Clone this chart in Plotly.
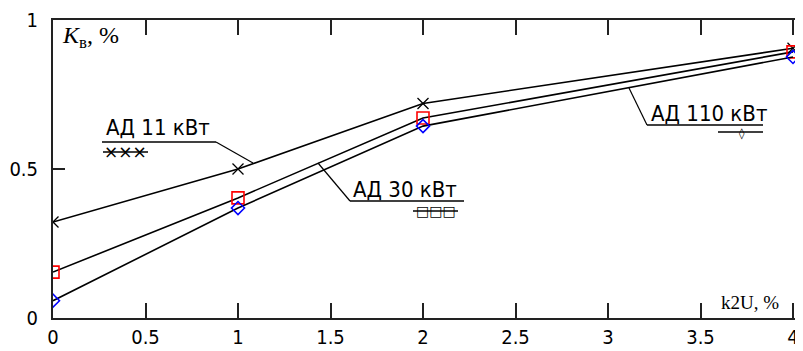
import plotly.graph_objects as go

# ---- data ----
k2u = [0, 1, 2, 4]
kv_11 = [0.322, 0.50, 0.72, 0.905]
kv_30 = [0.154, 0.403, 0.671, 0.893]
kv_110 = [0.058, 0.369, 0.644, 0.876]
series_names = ["АД 11 кВт", "АД 30 кВт", "АД 110 кВт"]
x_ticks = [0, 0.5, 1, 1.5, 2, 2.5, 3, 3.5, 4]
y_ticks = [0, 0.5, 1]

# ---- page-pixel helpers (plot area: x 0->53px, 4->793px ; y 0->318px, 1->20px) ----
PAGE_OFF = 8  # default body margin of the html page
X0, XS = 53, 185.0
Y0, YS = 318, 298.0
def dx(px):
    return (px - X0) / XS
def dy(py):
    return (Y0 - py) / YS

NARROW = "DejaVu Sans Condensed, Liberation Sans Narrow, Liberation Sans, sans-serif"
SERIF = "Liberation Serif, Times New Roman, serif"

fig = go.Figure()
fig.add_trace(go.Scatter(x=k2u, y=kv_11, mode="lines+markers", name=series_names[0],
                         line=dict(color="black", width=1.6),
                         marker=dict(symbol="x-thin-open", size=11, color="black",
                                     line=dict(color="black", width=1.3))))
fig.add_trace(go.Scatter(x=k2u, y=kv_30, mode="lines+markers", name=series_names[1],
                         line=dict(color="black", width=1.6),
                         marker=dict(symbol="square-open", size=12, color="red",
                                     line=dict(color="red", width=1.6))))
fig.add_trace(go.Scatter(x=k2u, y=kv_110, mode="lines+markers", name=series_names[2],
                         line=dict(color="black", width=1.6),
                         marker=dict(symbol="diamond-open", size=10, color="blue",
                                     line=dict(color="blue", width=1.6))))

shapes = []
annotations = []
def seg(x1, y1, x2, y2, w=1.2):
    shapes.append(dict(type="line", xref="x", yref="y", x0=dx(x1), y0=dy(y1),
                       x1=dx(x2), y1=dy(y2), line=dict(color="black", width=w)))
def txt(s, px, py, size, family=NARROW, xanchor="left", yanchor="middle"):
    annotations.append(dict(text=s, x=dx(px), y=dy(py), xref="x", yref="y",
                            showarrow=False, xanchor=xanchor, yanchor=yanchor,
                            font=dict(family=family, size=size, color="black")))

# АД 11 кВт label
txt(series_names[0], 104, 127, 22)
seg(102, 142, 216, 142, 1.6)
seg(216, 142, 253, 163)
seg(103, 152, 148, 152, 1.6)
txt("×××", 125.5, 152, 17, family="DejaVu Sans", xanchor="center")

# АД 30 кВт label
txt(series_names[1], 351, 189, 22)
seg(350, 201, 464, 201, 1.6)
seg(318, 163, 350, 201)
seg(413, 211, 458, 211, 1.6)
txt("□□□", 435.5, 211, 14, family="DejaVu Sans", xanchor="center")

# АД 110 кВт label
txt(series_names[2], 649, 113, 22)
seg(647, 125, 763, 125, 1.6)
seg(629, 88, 647, 125)
seg(718, 132, 763, 132, 1.6)
txt("◊", 742, 133, 11, family="DejaVu Sans", xanchor="center")

# axis titles inside plot
txt("<i>K</i><sub>в</sub>, %", 60, 37, 24, family=SERIF)
txt("k2U, %", 781, 302, 19, family=SERIF, xanchor="right")

W, H = 803 - PAGE_OFF, 351 - PAGE_OFF
fig.update_layout(
    width=W, height=H,
    margin=dict(l=X0 - PAGE_OFF, r=0, t=20 - PAGE_OFF, b=H - (Y0 - PAGE_OFF),
                autoexpand=False),
    paper_bgcolor="white", plot_bgcolor="white",
    showlegend=False,
    shapes=shapes, annotations=annotations,
    xaxis=dict(range=[0, dx(803)], tickvals=x_ticks, ticktext=[f"{v:g}" for v in x_ticks],
               automargin=False,
               showgrid=False, zeroline=False, showline=True, linecolor="#222", linewidth=2,
               ticks="inside", ticklen=15, tickwidth=2, tickcolor="#222", mirror="ticks",
               ticklabelstandoff=0,
               tickfont=dict(family=NARROW, size=20, color="black")),
    yaxis=dict(range=[0, 1], tickvals=y_ticks, ticktext=[f"{v:g}" for v in y_ticks],
               automargin=False,
               showgrid=False, zeroline=False, showline=True, linecolor="#222", linewidth=2,
               ticks="inside", ticklen=12, tickwidth=2, tickcolor="#222",
               ticklabelstandoff=9,
               tickfont=dict(family=NARROW, size=20, color="black")),
)

fig.write_html("out.html")
